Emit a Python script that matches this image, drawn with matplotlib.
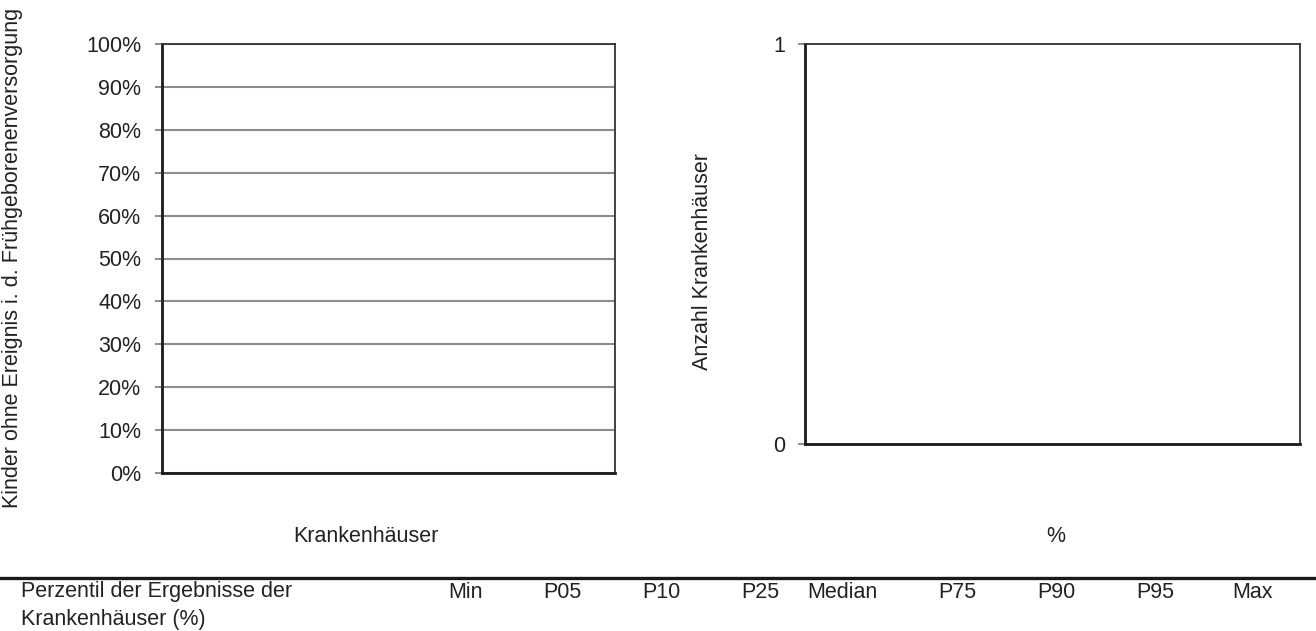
import numpy as np
import matplotlib.pyplot as plt

plt.rcParams['font.family'] = ['Liberation Sans', 'DejaVu Sans']
plt.rcParams['font.size'] = 15.5
plt.rcParams['text.color'] = '#222222'
plt.rcParams['xtick.color'] = '#222222'
plt.rcParams['ytick.color'] = '#222222'

# data (the reference chart has no hospitals / no values)
krankenhaus_werte = []          # result per hospital (fraction)
hist_werte = []                 # count of hospitals per % bin
y_ticks_links = np.arange(0, 1.01, 0.1)
y_labels_links = [f'{int(round(t * 100))}%' for t in y_ticks_links]
y_ticks_rechts = [0, 1]
perzentil_namen = ['Min', 'P05', 'P10', 'P25', 'Median', 'P75', 'P90', 'P95', 'Max']
perzentil_werte = [''] * len(perzentil_namen)

W, H = 1316, 631
fig = plt.figure(figsize=(W / 100, H / 100), dpi=100)

def box(x0, y0, x1, y1):
    return [x0 / W, 1 - y1 / H, (x1 - x0) / W, (y1 - y0) / H]

# left panel
ax1 = fig.add_axes(box(162, 44, 615, 473))
ax1.bar(range(len(krankenhaus_werte)), krankenhaus_werte, color='#555555')
ax1.set_ylim(0, 1)
ax1.set_xlim(0, 1)
ax1.set_yticks(y_ticks_links)
ax1.set_yticklabels(y_labels_links)
ax1.set_xticks([])
ax1.yaxis.grid(True, color='#8c8c8c', linewidth=1.5)
ax1.set_axisbelow(True)
ax1.tick_params(axis='y', length=5, width=1.2, color='#777777', pad=10)
for s in ('left', 'bottom'):
    ax1.spines[s].set_linewidth(2.0)
    ax1.spines[s].set_color('#1a1a1a')
for s in ('top', 'right'):
    ax1.spines[s].set_linewidth(1.3)
    ax1.spines[s].set_color('#333333')

# right panel
ax2 = fig.add_axes(box(805, 44, 1300, 444))
ax2.bar(range(len(hist_werte)), hist_werte, color='#555555')
ax2.set_ylim(0, 1)
ax2.set_xlim(0, 1)
ax2.set_yticks(y_ticks_rechts)
ax2.set_xticks([])
ax2.tick_params(axis='y', length=5, width=1.2, color='#777777', pad=9.5)
for s in ('left', 'bottom'):
    ax2.spines[s].set_linewidth(2.0)
    ax2.spines[s].set_color('#1a1a1a')
for s in ('top', 'right'):
    ax2.spines[s].set_linewidth(1.3)
    ax2.spines[s].set_color('#333333')

# axis titles placed as figure text
fig.text(13 / W, 1 - 258 / H, 'Kinder ohne Ereignis i. d. Frühgeborenenversorgung',
         rotation=90, ha='center', va='center')
fig.text(702 / W, 1 - 262 / H, 'Anzahl Krankenhäuser', rotation=90, ha='center', va='center')
fig.text(366 / W, 1 - 536 / H, 'Krankenhäuser', ha='center', va='center')
fig.text(1056 / W, 1 - 536 / H, '%', ha='center', va='center')

# percentile table
fig.add_artist(plt.Line2D([0, 1], [1 - 578 / H, 1 - 578 / H], color='#1a1a1a', linewidth=2.4))
fig.text(21 / W, 1 - 592 / H, 'Perzentil der Ergebnisse der', ha='left', va='center')
fig.text(21 / W, 1 - 620 / H, 'Krankenhäuser (%)', ha='left', va='center')
for i, (name, wert) in enumerate(zip(perzentil_namen, perzentil_werte)):
    xr = (483 + 98.7 * i) / W
    fig.text(xr, 1 - 592 / H, name, ha='right', va='center')
    fig.text(xr, 1 - 620 / H, wert, ha='right', va='center')

fig.savefig('out.png', dpi=100)
